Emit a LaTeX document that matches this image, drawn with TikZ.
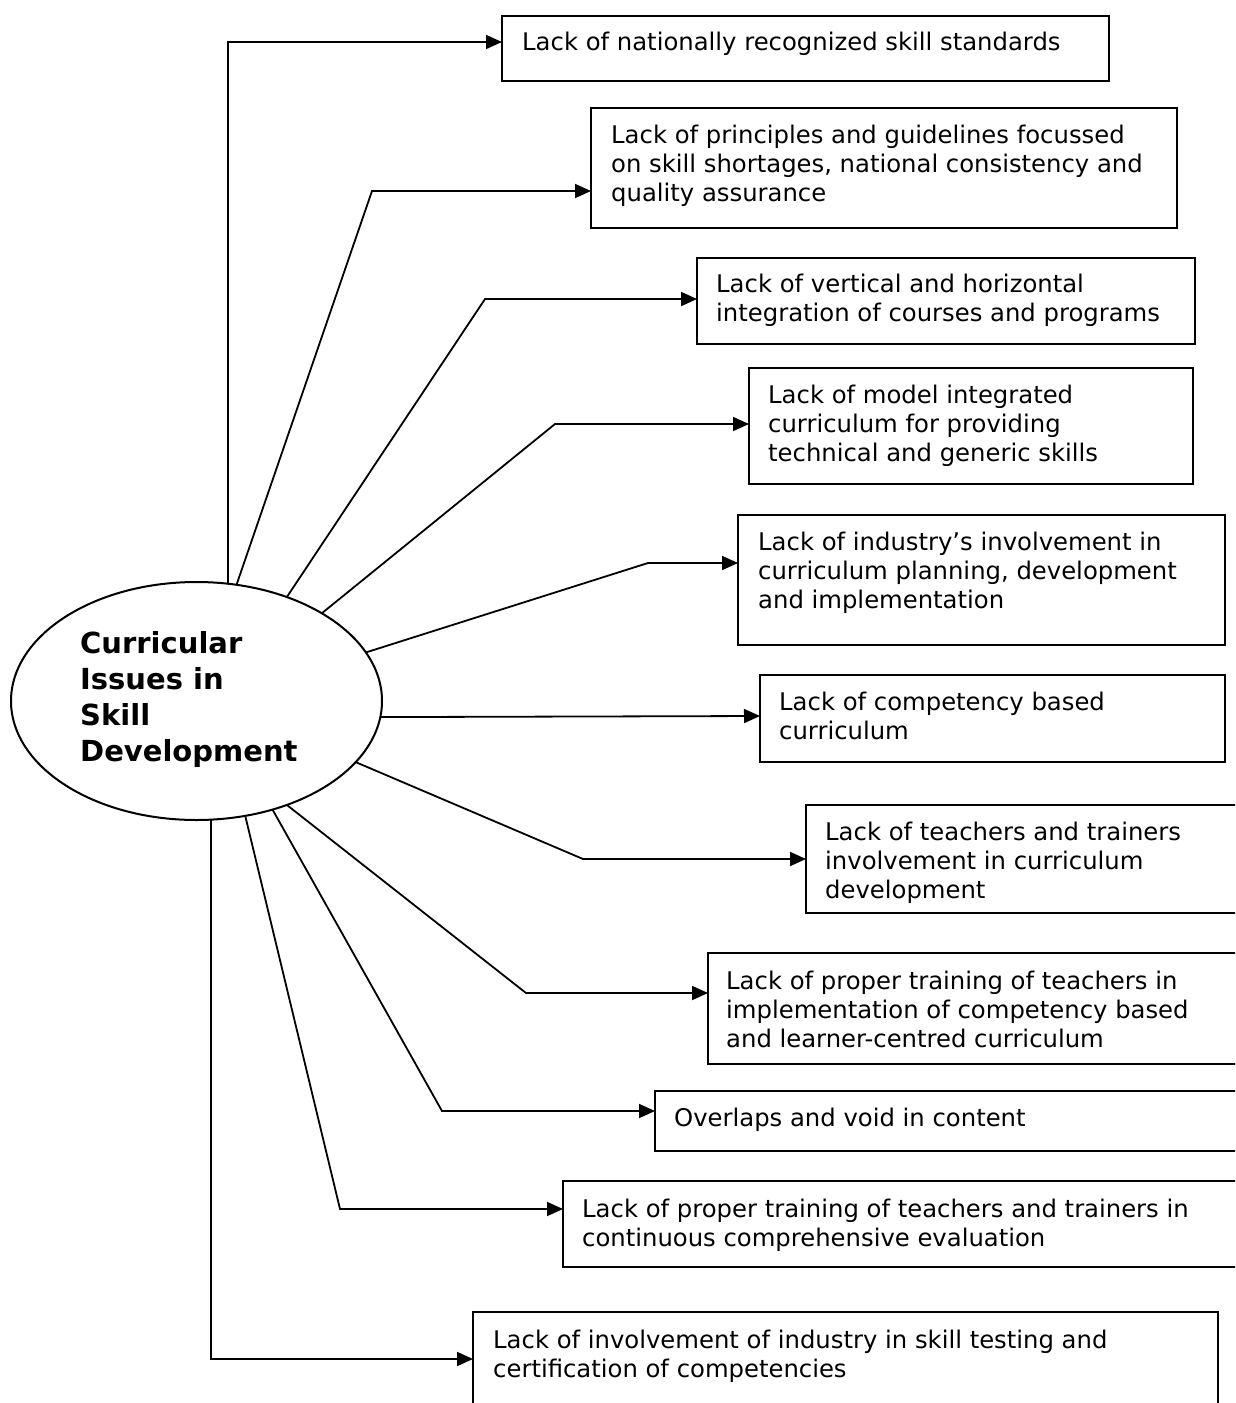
\documentclass[tikz,border=0pt]{standalone}
\usepackage{fontspec}
\setmainfont{DejaVu Sans}
\usetikzlibrary{arrows.meta,shapes.geometric}
\newcommand\mkbox[5]{\node[boxshape, anchor=north west, minimum width={#4pt-#2pt}, minimum height={#5pt-#3pt}] (#1) at (#2,#3) {};}
\begin{document}
\begin{tikzpicture}[x=1pt,y=-1pt,
 boxshape/.style={draw, line width=2pt, rectangle, inner sep=0pt, outer sep=0pt},
 itemtext/.style={inner sep=0pt, anchor=base west, align=left, font=\fontsize{24.3}{29}\selectfont},
 link/.style={line width=1.8pt, -{Triangle[length=16pt,width=14pt]}},
]
\useasboundingbox (0,0) rectangle (1235,1403);
\fill[white] (0,0) rectangle (1235,1403);
\clip (0,0) rectangle (1235,1403);

% central ellipse
\node[draw, ellipse, line width=2pt, inner sep=0pt, outer sep=0pt, minimum width=371pt, minimum height=238pt] (E) at (196.5,701) {};
\node[inner sep=0pt, anchor=base west, align=left, font=\fontsize{29}{36}\selectfont\bfseries] (Et) at (80,761) {Curricular\\Issues in\\Skill\\Development};

% boxes
\mkbox{b1}{502}{16}{1109}{81}
\mkbox{b2}{591}{108}{1177}{228}
\mkbox{b3}{697}{258}{1195}{344}
\mkbox{b4}{749}{368}{1193}{484}
\mkbox{b5}{738}{515}{1225}{645}
\mkbox{b6}{760}{675}{1225}{762}
\mkbox{b7}{806}{805}{1250}{913}
\mkbox{b8}{708}{953}{1250}{1064}
\mkbox{b9}{655}{1091}{1250}{1151}
\mkbox{b10}{563}{1181}{1250}{1267}
\mkbox{b11}{473}{1312}{1218}{1430}

% texts (anchored at the baseline of the last line)
\node[itemtext] (t1) at (522,50.5) {Lack of nationally recognized skill standards};
\node[itemtext] (t2) at (611,201.5) {Lack of principles and guidelines focussed\\on skill shortages, national consistency and\\quality assurance};
\node[itemtext] (t3) at (716,321.5) {Lack of vertical and horizontal\\integration of courses and programs};
\node[itemtext] (t4) at (768,461.5) {Lack of model integrated\\curriculum for providing\\technical and generic skills};
\node[itemtext] (t5) at (758,608.5) {Lack of industry’s involvement in\\curriculum planning, development\\and implementation};
\node[itemtext] (t6) at (779,739.5) {Lack of competency based\\curriculum};
\node[itemtext] (t7) at (825,898.5) {Lack of teachers and trainers\\involvement in curriculum\\development};
\node[itemtext] (t8) at (726,1047.5) {Lack of proper training of teachers in\\implementation of competency based\\and learner-centred curriculum};
\node[itemtext] (t9) at (674,1126.5) {Overlaps and void in content};
\node[itemtext] (t10) at (582,1246.5) {Lack of proper training of teachers and trainers in\\continuous comprehensive evaluation};
\node[itemtext] (t11) at (493,1377.5) {Lack of involvement of industry in skill testing and\\certification of competencies};

% bend / level coordinates
\coordinate (a1) at (0,42);
\coordinate (k2) at (372,191);
\coordinate (k3) at (485,299);
\coordinate (k4) at (555,424);
\coordinate (k5) at (648,563);
\coordinate (a6) at (0,716);
\coordinate (k7) at (583,859);
\coordinate (k8) at (526,993);
\coordinate (k9) at (442,1111);
\coordinate (k10) at (340,1209);
\coordinate (a11) at (0,1359);

% connectors
\draw[link] (E.75) |- (b1.west |- a1);
\draw[link] (E.71) -- (k2) -- (b2.west |- k2);
\draw[link] (E.49) -- (k3) -- (b3.west |- k3);
\draw[link] (E.35) -- (k4) -- (b4.west |- k4);
\draw[link] (E.16) -- (k5) -- (b5.west |- k5);
\draw[link] (E.-5) -- (b6.west |- a6);
\draw[link] (E.-21) -- (k7) -- (b7.west |- k7);
\draw[link] (E.-49) -- (k8) -- (b8.west |- k8);
\draw[link] (E.-55) -- (k9) -- (b9.west |- k9);
\draw[link] (E.-67) -- (k10) -- (b10.west |- k10);
\draw[link] (E.-83) |- (b11.west |- a11);
\end{tikzpicture}
\end{document}
